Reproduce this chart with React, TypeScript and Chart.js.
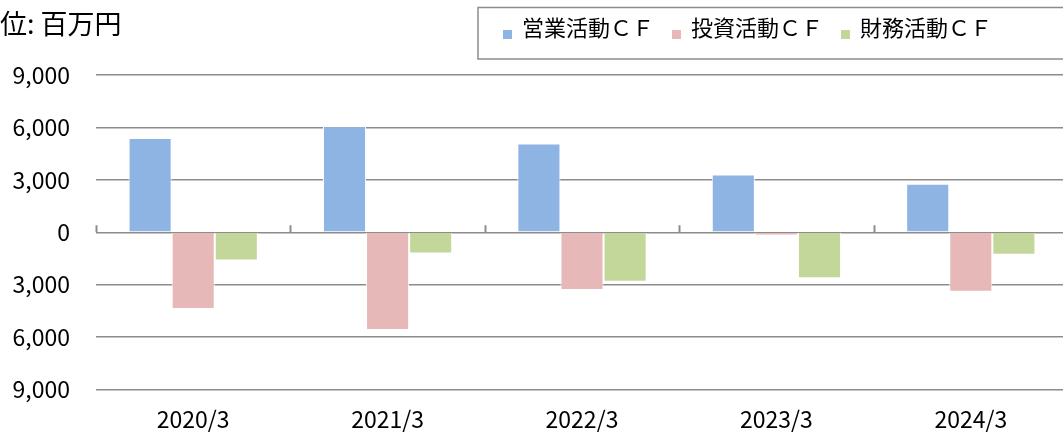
import React, { useEffect, useRef } from "react";
import { Chart, registerables } from "chart.js";

Chart.register(...registerables);

const categories = ["2020/3", "2021/3", "2022/3", "2023/3", "2024/3"];
const seriesNames = ["営業活動ＣＦ", "投資活動ＣＦ", "財務活動ＣＦ"];
const operatingCF = [5400, 6070, 5080, 3300, 2770];
const investingCF = [-4390, -5590, -3300, -180, -3400];
const financingCF = [-1620, -1220, -2840, -2630, -1290];
const yTicks = [-9000, -6000, -3000, 0, 3000, 6000, 9000];
const unitLabel = "位: 百万円";
const seriesColors = ["#8eb4e3", "#e6b9b8", "#c4d79b"];

const FONT = "'Noto Sans CJK JP', 'Noto Sans', sans-serif";
const GRID = "#8c8c8c";

const overlayPlugin = {
  id: "overlay",
  afterDraw(chart: any) {
    const ctx = chart.ctx;
    const area = chart.chartArea;
    const y = chart.scales.y;
    const zeroY = y.getPixelForValue(0);
    ctx.save();
    // category boundary tick marks on the zero line
    ctx.strokeStyle = GRID;
    ctx.lineWidth = 2;
    const n = categories.length;
    const w = (area.right - area.left) / n;
    for (let i = 0; i <= n; i++) {
      const x = Math.round(area.left + i * w) + 0.5;
      ctx.beginPath();
      ctx.moveTo(x, zeroY - 7);
      ctx.lineTo(x, zeroY);
      ctx.stroke();
    }
    // unit label
    ctx.fillStyle = "#000";
    ctx.font = `27px ${FONT}`;
    ctx.textBaseline = "middle";
    ctx.textAlign = "left";
    ctx.fillText(unitLabel, 0, 23.5);
    // legend box
    ctx.strokeStyle = GRID;
    ctx.lineWidth = 1.5;
    ctx.strokeRect(478, 7.5, 700, 51.5);
    ctx.font = `22px ${FONT}`;
    let x = 503;
    chart.data.datasets.forEach((ds: any) => {
      ctx.fillStyle = ds.backgroundColor;
      ctx.fillRect(x, 30, 9, 9);
      ctx.fillStyle = "#000";
      ctx.fillText(ds.label, x + 19, 28);
      x += 169;
    });
    ctx.restore();
  },
};

export default function App() {
  const ref = useRef<HTMLCanvasElement>(null);
  useEffect(() => {
    if (!ref.current) return;
    const series = [operatingCF, investingCF, financingCF];
    const chart = new Chart(ref.current, {
      type: "bar",
      data: {
        labels: categories,
        datasets: series.map((d, i) => ({
          label: seriesNames[i],
          data: d,
          backgroundColor: seriesColors[i],
          borderColor: "#ffffff",
          borderWidth: 1,
          categoryPercentage: 0.665,
          barPercentage: 1,
        })),
      },
      options: {
        animation: false,
        responsive: false,
        devicePixelRatio: 1,
        layout: { padding: { top: 75, right: 12, left: 0, bottom: 0 } },
        plugins: {
          legend: { display: false },
          title: { display: false },
          tooltip: { enabled: false },
        },
        scales: {
          x: {
            grid: { display: false },
            border: { display: false },
            ticks: {
              color: "#000",
              font: { family: FONT, size: 23 },
              padding: 8,
              maxRotation: 0,
            },
            afterFit(scale: any) {
              scale.height = 44.5;
            },
          },
          y: {
            min: -9000,
            max: 9000,
            afterBuildTicks(scale: any) {
              scale.ticks = yTicks.map((v) => ({ value: v }));
            },
            grid: { color: GRID, lineWidth: 1.5, drawTicks: false },
            border: { display: false },
            ticks: {
              color: "#000",
              font: { family: FONT, size: 23 },
              padding: 26,
              callback: (v: any) => Math.abs(Number(v)).toLocaleString("en-US"),
            },
            afterFit(scale: any) {
              scale.width = 96;
            },
          },
        },
      },
      plugins: [overlayPlugin],
    });
    return () => chart.destroy();
  }, []);
  return (
    <div
      style={{
        position: "fixed",
        left: 0,
        top: 0,
        width: 1063,
        height: 434,
        overflow: "hidden",
        background: "#fff",
      }}
    >
      <canvas ref={ref} width={1080} height={434} style={{ display: "block", width: 1080, height: 434 }} />
    </div>
  );
}
